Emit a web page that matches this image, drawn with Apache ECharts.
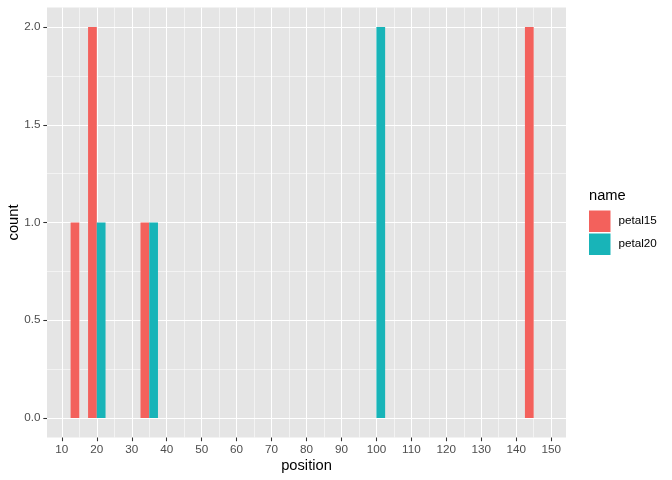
<!DOCTYPE html>
<html lang="en">
<head>
    <meta charset="UTF-8">
    <title>petal histogram</title>
    <style>
        html, body { margin: 0; padding: 0; background: #fff; }
        #chart-container { width: 672px; height: 480px; }
    </style>
</head>
<body>
    <div id="chart-container"></div>
    <script src="https://cdn.jsdelivr.net/npm/echarts@6/dist/echarts.min.js"></script>
    <script>
        // histogram bins (centre of each bin) and counts per group
        const binCenters = [15, 20, 35, 100, 145];
        const binWidth = 5;
        const petal15 = [1, 2, 1, 0, 2];
        const petal20 = [0, 1, 1, 2, 0];
        const groupNames = ['petal15', 'petal20'];
        const groupColors = ['#F3615C', '#18B4B8'];

        const xMajor = [10, 20, 30, 40, 50, 60, 70, 80, 90, 100, 110, 120, 130, 140, 150];
        const xMinor = [15, 25, 35, 45, 55, 65, 75, 85, 95, 105, 115, 125, 135, 145];
        const yMajor = [0, 0.5, 1, 1.5, 2];
        const yMinor = [0.25, 0.75, 1.25, 1.75];

        const fontFamily = '"Liberation Sans", Arial, Helvetica, sans-serif';

        // dodge: first group on the left half of the bin, second on the right half
        function dodged(counts, slot) {
            const half = binWidth / 2;
            return binCenters.map(function (c, i) {
                const x0 = c - half + slot * half;
                return [x0, x0 + half, counts[i]];
            });
        }

        function renderBar(params, api) {
            const p0 = api.coord([api.value(0), api.value(2)]);
            const p1 = api.coord([api.value(1), 0]);
            return {
                type: 'rect',
                shape: { x: p0[0], y: p0[1], width: p1[0] - p0[0], height: p1[1] - p0[1] },
                style: { fill: api.visual('color') }
            };
        }

        var dom = document.getElementById('chart-container');
        var myChart = echarts.init(dom, null, { renderer: 'canvas' });

        var option = {
            animation: false,
            textStyle: { fontFamily: fontFamily },
            title: {
                text: 'name',
                left: 589,
                top: 188,
                padding: 0,
                textStyle: { fontSize: 14.7, fontWeight: 'normal', color: '#000', fontFamily: fontFamily }
            },
            legend: {
                orient: 'vertical',
                left: 589,
                top: 210.5,
                padding: 0,
                itemWidth: 21.5,
                itemHeight: 21.5,
                itemGap: 1.5,
                icon: 'rect',
                data: groupNames,
                textStyle: { fontSize: 11.7, color: '#000', padding: [0, 0, 0, 3], fontFamily: fontFamily }
            },
            grid: { left: 47, right: 106, top: 7.5, bottom: 42.5, containLabel: false,
                    outerBoundsMode: 'none',
                    show: true, backgroundColor: '#E5E5E5', borderWidth: 0 },
            xAxis: [
                {
                    type: 'value', min: 5.75, max: 154.25, position: 'bottom',
                    name: 'position', nameLocation: 'middle', nameGap: 21, nameMoveOverlap: false,
                    nameTextStyle: { fontSize: 14.7, color: '#000', fontFamily: fontFamily },
                    axisLine: { show: false, onZero: false },
                    axisTick: { show: true, length: 3.7, customValues: xMajor, lineStyle: { color: '#333333', width: 1.07 } },
                    axisLabel: { customValues: xMajor, margin: 6.6, fontSize: 11.7, color: '#4D4D4D', fontFamily: fontFamily },
                    splitLine: { show: true, lineStyle: { color: '#fff', width: 1.07 } }
                },
                {
                    type: 'value', min: 5.75, max: 154.25, position: 'bottom',
                    axisLine: { show: false, onZero: false },
                    axisTick: { show: false, customValues: xMinor },
                    axisLabel: { show: false, customValues: xMinor },
                    splitLine: { show: true, lineStyle: { color: '#fff', width: 0.53 } }
                }
            ],
            yAxis: [
                {
                    type: 'value', min: -0.1, max: 2.1, position: 'left',
                    name: 'count', nameLocation: 'middle', nameGap: 26, nameRotate: 90, nameMoveOverlap: false,
                    nameTextStyle: { fontSize: 14.7, color: '#000', fontFamily: fontFamily },
                    axisLine: { show: false, onZero: false },
                    axisTick: { show: true, length: 3.7, customValues: yMajor, lineStyle: { color: '#333333', width: 1.07 } },
                    axisLabel: {
                        customValues: yMajor, margin: 6.6, fontSize: 11.7, color: '#4D4D4D', fontFamily: fontFamily,
                        formatter: function (v) { return v.toFixed(1); }
                    },
                    splitLine: { show: true, lineStyle: { color: '#fff', width: 1.07 } }
                },
                {
                    type: 'value', min: -0.1, max: 2.1, position: 'left',
                    axisLine: { show: false, onZero: false },
                    axisTick: { show: false, customValues: yMinor },
                    axisLabel: { show: false, customValues: yMinor },
                    splitLine: { show: true, lineStyle: { color: '#fff', width: 0.53 } }
                }
            ],
            series: [
                {
                    name: groupNames[0], type: 'custom', renderItem: renderBar,
                    itemStyle: { color: groupColors[0] },
                    encode: { x: [0, 1], y: 2 },
                    data: dodged(petal15, 0), z: 5
                },
                {
                    name: groupNames[1], type: 'custom', renderItem: renderBar,
                    itemStyle: { color: groupColors[1] },
                    encode: { x: [0, 1], y: 2 },
                    data: dodged(petal20, 1), z: 5
                }
            ]
        };

        myChart.setOption(option);
        window.addEventListener('resize', myChart.resize);
    </script>
</body>
</html>
